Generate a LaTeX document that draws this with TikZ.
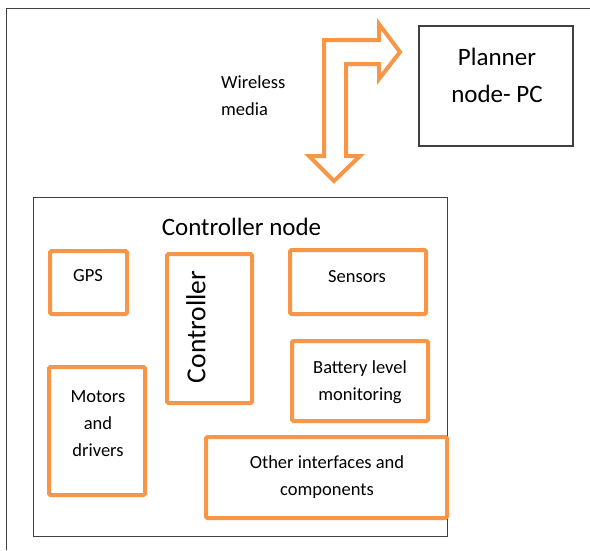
\documentclass[tikz,border=0pt]{standalone}
\usepackage{fontspec}
\setmainfont{Carlito}
\definecolor{accentorange}{RGB}{247,150,70}
\definecolor{framegray}{RGB}{64,64,64}
\begin{document}
\begin{tikzpicture}[x=1pt,y=-1pt,
  orangebox/.style={draw=accentorange,line width=4pt,rounded corners=1.5pt,
    minimum width=#1,inner sep=0pt,outer sep=0pt},
  blackbox/.style={draw=framegray,line width=1.5pt,inner sep=0pt,outer sep=0pt},
  small/.style={font=\fontsize{18.5}{27}\selectfont,align=center,inner sep=0pt},
  big/.style={font=\fontsize{25}{37}\selectfont,align=center,inner sep=0pt}]
\useasboundingbox (0,0) rectangle (590,550);
\fill[white] (0,0) rectangle (590,550);

% open outer frame
\draw[framegray,line width=1.8pt] (6.5,550) -- (6.5,8.5) -- (590,8.5);

% planner node
\node[blackbox,minimum width=154pt,minimum height=120pt] (planner) at (496,86) {};
\node[big] (plannertxt) at (497,75) {Planner\\node- PC};

% wireless link: double block arrow
\draw[accentorange,line width=4pt,fill=white,miter limit=10]
  (324,40) -- (379,40) -- (379,24) -- (400,52) -- (379,79) -- (379,64)
  -- (346,64) -- (346,156) -- (360,156) -- (334,181) -- (309,156)
  -- (324,156) -- cycle;
\node[small,align=left,anchor=west] (wireless) at (221,96) {Wireless\\media};

% controller node and its parts
\node[blackbox,minimum width=414pt,minimum height=339pt] (ctrlnode) at (240.5,367) {};
\node[big] (ctrlnodetxt) at (241.5,227) {Controller node};

\node[orangebox=77pt,minimum height=63pt] (gps) at (88.5,282.5) {};
\node[small] (gpstxt) at (88,276) {GPS};

\node[orangebox=85pt,minimum height=149pt] (ctrl) at (209.5,328.5) {};
\node[font=\fontsize{27.5}{33}\selectfont,inner sep=0pt,rotate=90] (ctrltxt) at (196,327) {Controller};

\node[orangebox=136pt,minimum height=64pt] (sensors) at (358,282) {};
\node[small] (sensorstxt) at (357,277) {Sensors};

\node[orangebox=136pt,minimum height=80pt] (battery) at (360,381) {};
\node[small] (batterytxt) at (360,382) {Battery level\\monitoring};

\node[orangebox=96pt,minimum height=128pt] (motors) at (97,431) {};
\node[small] (motorstxt) at (98,423.5) {Motors\\and\\drivers};

\node[orangebox=241pt,minimum height=81pt] (other) at (326.5,477.5) {};
\node[small] (othertxt) at (327,477) {Other interfaces and\\components};
\end{tikzpicture}
\end{document}
